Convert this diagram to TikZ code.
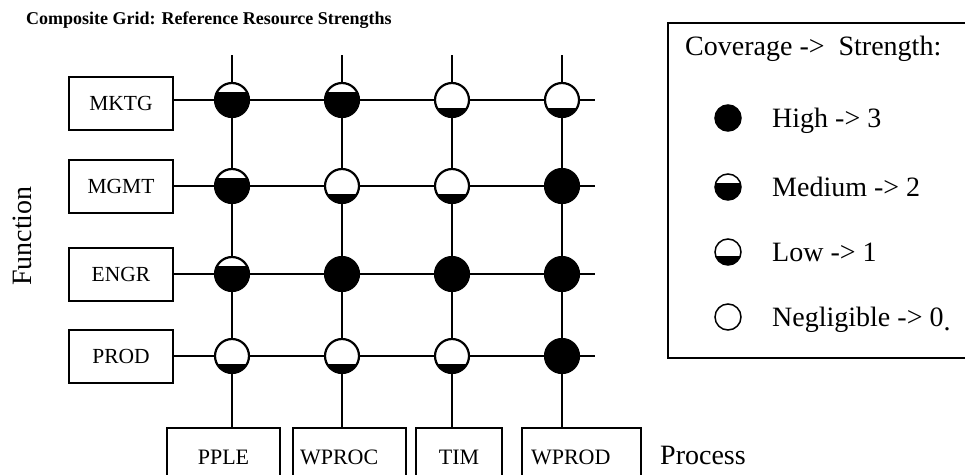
\documentclass[tikz,border=0pt]{standalone}
\usepackage{fontspec}
\setmainfont{Liberation Serif}
\usetikzlibrary{backgrounds}

\begin{document}
\begin{tikzpicture}[x=1pt,y=-1pt,
  fbox/.style={draw, line width=1.5pt, minimum width=104pt, minimum height=53pt,
    inner sep=0pt, font=\fontsize{21.5}{24}\selectfont},
  pbox/.style={draw, line width=1.5pt, minimum height=58pt, inner ysep=0pt,
    font=\fontsize{22}{24}\selectfont},
  gridline/.style={line width=2.7pt},
  dot/.style={circle, draw, line width=2.2pt, minimum size=34pt, inner sep=0pt},
  high/.style={dot, fill=black},
  med/.style={dot, fill=black, path picture={\fill[white]
    ([yshift=5pt]path picture bounding box.north west) rectangle
    ([yshift=#1]path picture bounding box.east);}},
  med/.default=8pt,
  low/.style={dot, fill=white, path picture={\fill[black]
    ([yshift=-5pt]path picture bounding box.south west) rectangle
    ([yshift=#1]path picture bounding box.east);}},
  low/.default=-8pt,
  keydot/.style={minimum size=26pt, line width=1.5pt},
  keytext/.style={anchor=base west, inner sep=0pt, font=\fontsize{28}{30}\selectfont},
]
\useasboundingbox (0,0) rectangle (965,474);

% title
\node[anchor=base west, inner sep=0pt, font=\fontsize{18}{20}\selectfont\bfseries]
  (title) at (26,24) {Composite Grid: Reference Resource Strengths};

% axis captions
\node[rotate=90, inner sep=0pt, font=\fontsize{28}{30}\selectfont] (function) at (22,236) {Function};
\node[anchor=base west, inner sep=0pt, font=\fontsize{28}{30}\selectfont] (process) at (660,464) {Process};

% function boxes
\node[fbox] (mktg) at (121,103.5) {MKTG};
\node[fbox] (mgmt) at (121,186.5) {MGMT};
\node[fbox] (engr) at (121,274.5) {ENGR};
\node[fbox] (prod) at (121,356.5) {PROD};

% process boxes
\node[pbox, minimum width=113pt, inner xsep=0pt] (pple) at (223.5,457) {PPLE};
\node[pbox, text width=99pt, align=left, inner xsep=7pt] (wproc) at (349.5,457) {WPROC};
\node[pbox, minimum width=86pt, inner xsep=0pt] (tim) at (459,457) {TIM};
\node[pbox, text width=101pt, align=left, inner xsep=9pt] (wprod) at (581.5,457) {WPROD};

% grid cells: rows MKTG, MGMT, ENGR, PROD; columns PPLE, WPROC, TIM, WPROD
\node[med]  (c11) at (232,100) {};
\node[med]  (c12) at (342,100) {};
\node[low]  (c13) at (452,100) {};
\node[low]  (c14) at (562,100) {};
\node[med]  (c21) at (232,186) {};
\node[low]  (c22) at (342,186) {};
\node[low]  (c23) at (452,186) {};
\node[high] (c24) at (562,186) {};
\node[med]  (c31) at (232,274) {};
\node[high] (c32) at (342,274) {};
\node[high] (c33) at (452,274) {};
\node[high] (c34) at (562,274) {};
\node[low]  (c41) at (232,356) {};
\node[low]  (c42) at (342,356) {};
\node[low]  (c43) at (452,356) {};
\node[high] (c44) at (562,356) {};

% free ends of the grid lines
\coordinate (e1) at (595,100);
\coordinate (e2) at (595,186);
\coordinate (e3) at (595,274);
\coordinate (e4) at (595,356);
\coordinate (t1) at (232,55);
\coordinate (t2) at (342,55);
\coordinate (t3) at (452,55);
\coordinate (t4) at (562,55);

\begin{scope}[on background layer]
  \draw[gridline] (mktg.east |- c11) -- (e1);
  \draw[gridline] (mgmt.east |- c21) -- (e2);
  \draw[gridline] (engr.east |- c31) -- (e3);
  \draw[gridline] (prod.east |- c41) -- (e4);
  \draw[gridline] (t1) -- (t1 |- pple.north);
  \draw[gridline] (t2) -- (t2 |- wproc.north);
  \draw[gridline] (t3) -- (t3 |- tim.north);
  \draw[gridline] (t4) -- (t4 |- wprod.north);
\end{scope}

% legend
\draw[line width=1.5pt] (668,23) rectangle (990,358);
\node[keytext] (ktitle) at (685,55) {Coverage ->\ \ Strength:};
\node[high, keydot] (khigh) at (728,118) {};
\node[med=4pt, keydot] (kmed) at (728,187) {};
\node[low=-4pt, keydot] (klow) at (728,252) {};
\node[dot, fill=white, keydot] (kneg) at (728,317) {};
\node[keytext] (thigh) at (772,127) {High -> 3};
\node[keytext] (tmed) at (772,196) {Medium -> 2};
\node[keytext] (tlow) at (772,261) {Low -> 1};
\node[keytext] (tneg) at (772,326) {Negligible -> 0\raisebox{-4pt}{.}};
\end{tikzpicture}
\end{document}
